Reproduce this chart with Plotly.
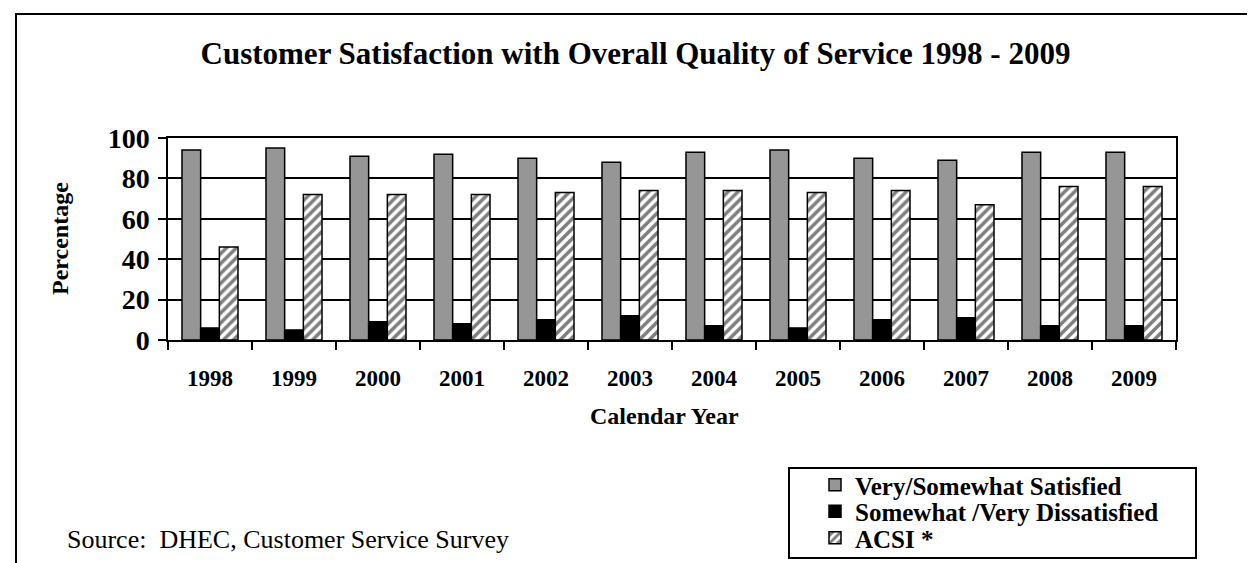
import plotly.graph_objects as go

years = ["1998", "1999", "2000", "2001", "2002", "2003", "2004", "2005", "2006", "2007", "2008", "2009"]
satisfied = [94, 95, 91, 92, 90, 88, 93, 94, 90, 89, 93, 93]
dissatisfied = [6, 5, 9, 8, 10, 12, 7, 6, 10, 11, 7, 7]
acsi = [46, 72, 72, 72, 73, 74, 74, 73, 74, 67, 76, 76]

series_names = ["Very/Somewhat Satisfied", "Somewhat /Very Dissatisfied", "ACSI *"]
y_ticks = [0, 20, 40, 60, 80, 100]

FONT = "Liberation Serif"

# plot area in pixels (for converting helper positions to paper coords)
W, H = 1255, 563
L, R, T, B = 160, 1168, 130, 332


def px(x):
    return (x - L) / (R - L)


def py(y):
    return (B - y) / (B - T)


fig = go.Figure()
fig.add_trace(go.Bar(
    x=years, y=satisfied, name=series_names[0], legend="legend",
    marker=dict(color="#969696", line=dict(color="black", width=1.5)),
))
fig.add_trace(go.Bar(
    x=years, y=dissatisfied, name=series_names[1], legend="legend2",
    marker=dict(color="black", line=dict(color="black", width=1.5)),
))
fig.add_trace(go.Bar(
    x=years, y=acsi, name=series_names[2], legend="legend3",
    marker=dict(color="white", line=dict(color="black", width=1.5),
                pattern=dict(shape="/", fgcolor="black", bgcolor="white",
                             size=7, solidity=0.5)),
))

leg_font = dict(family=FONT, size=25, color="black", weight="bold")
leg_x = px(807)


def leg(ypix):
    return dict(x=leg_x, y=py(ypix), xanchor="left", yanchor="middle",
                bgcolor="rgba(0,0,0,0)", borderwidth=0, font=leg_font,
                itemclick=False, itemdoubleclick=False)


fig.update_layout(
    width=W, height=H,
    margin=dict(l=L, r=W - R, t=T, b=H - B, autoexpand=False),
    paper_bgcolor="white", plot_bgcolor="white",
    barmode="group", bargap=0.333, bargroupgap=0,
    font=dict(family=FONT, color="black"),
    title=dict(text="<b>Customer Satisfaction with Overall Quality of Service 1998 - 2009</b>",
               x=0.5, xref="container", xanchor="center",
               y=1 - 45 / H, yref="container", yanchor="middle",
               font=dict(family=FONT, size=31, color="black")),
    showlegend=True,
    legend=leg(477),
    legend2=leg(503.5),
    legend3=leg(530),
)

fig.update_xaxes(
    type="category", showline=True, linecolor="black", linewidth=1.5, mirror=True,
    ticks="outside", tickson="boundaries", ticklen=8, tickwidth=1.5, tickcolor="black",
    ticklabelstandoff=17,
    tickfont=dict(family=FONT, size=23, color="black", weight="bold"),
    showgrid=False,
)
fig.update_yaxes(
    range=[0, 100], tickvals=y_ticks, ticktext=[str(v) for v in y_ticks],
    showline=True, linecolor="black", linewidth=1.5, mirror=True,
    ticks="outside", ticklen=8, tickwidth=1.5, tickcolor="black",
    ticklabelstandoff=3,
    tickfont=dict(family=FONT, size=28, color="black", weight="bold"),
    showgrid=True, gridcolor="black", gridwidth=1.5, zeroline=False,
)

fig.add_annotation(text="<b>Percentage</b>", textangle=-90, showarrow=False,
                   xref="paper", yref="paper", x=px(52), y=py(231),
                   xanchor="center", yanchor="middle",
                   font=dict(family=FONT, size=24, color="black"))
fig.add_annotation(text="<b>Calendar Year</b>", showarrow=False,
                   xref="paper", yref="paper", x=px(656), y=py(408),
                   xanchor="center", yanchor="middle",
                   font=dict(family=FONT, size=24, color="black"))
fig.add_annotation(text="Source:  DHEC, Customer Service Survey", showarrow=False,
                   xref="paper", yref="paper", x=px(57), y=py(531),
                   xanchor="left", yanchor="middle",
                   font=dict(family=FONT, size=26, color="black"))

# outer frame and legend box
fig.add_shape(type="rect", xref="paper", yref="paper",
              x0=px(8), x1=px(1252), y0=py(580), y1=py(6),
              line=dict(color="black", width=2), fillcolor="rgba(0,0,0,0)", layer="below")
fig.add_shape(type="rect", xref="paper", yref="paper",
              x0=px(781), x1=px(1188), y0=py(550), y1=py(460),
              line=dict(color="black", width=2), fillcolor="rgba(0,0,0,0)", layer="below")

fig.write_html("out.html")
